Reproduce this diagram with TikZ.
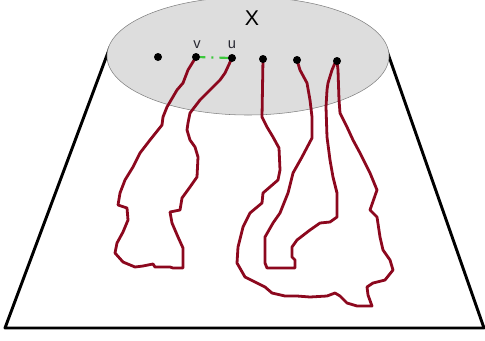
\documentclass[tikz,border=0pt]{standalone}
\usepackage{fontspec}
\setmainfont{Liberation Sans}
\usepackage{tikz}
\definecolor{loopred}{RGB}{140,8,30}
\definecolor{dotgreen}{RGB}{60,200,60}
\definecolor{diskgray}{RGB}{221,221,221}
\definecolor{labelgray}{RGB}{40,40,50}
\tikzset{
  loopline/.style={loopred,line width=2.1pt,line join=round},
  pt/.style={circle,fill=black,inner sep=0pt,minimum size=6pt},
  lbl/.style={labelgray,font=\fontsize{11}{12}\selectfont}
}

\begin{document}
\begin{tikzpicture}[x=0.75pt,y=-0.75pt]
    \useasboundingbox (0,0) rectangle (485,340);
    % Corners of the plane (top ones hidden under the disc)
    \coordinate (TL) at (110,47); % Top left
    \coordinate (TR) at (386,48); % Top right
    \coordinate (BR) at (484,328); % Bottom right
    \coordinate (BL) at (5,328); % Bottom left
    \draw[line width=2.2pt,line join=round] (TL) -- (TR) -- (BR) -- (BL) -- cycle;
    % The disc X
    \draw[gray,fill=diskgray] (248,56) ellipse [x radius=141, y radius=59];
    \node[font=\fontsize{16}{18}\selectfont] (X) at (252,18) {X};
    % Points on the disc
    \coordinate (p1) at (158,57);
    \coordinate (pv) at (196,57);
    \coordinate (pu) at (232,58);
    \coordinate (p4) at (263,59);
    \coordinate (p5) at (297,60);
    \coordinate (p6) at (337,61);
    \draw[dotgreen,line width=1.6pt,dash pattern=on 7pt off 4.5pt on 1.5pt off 4.5pt] (pv) -- (pu);
    % Loop from v to u
    \draw[loopline] (pv) -- (188,70) -- (183,83) -- (177,90) -- (167,107) -- (163,117)
      -- (162,125) -- (150,140) -- (140,153) -- (133,167) -- (125,180) -- (120,193)
      -- (118,205) -- (127,208) -- (128,220) -- (123,232) -- (117,243) -- (115,253)
      -- (123,262) -- (135,267) -- (143,266) -- (153,264) -- (155,267) -- (170,267)
      -- (173,268) -- (183,268) -- (183,248) -- (178,237) -- (172,223) -- (170,212)
      -- (180,210) -- (182,198) -- (190,187) -- (197,177) -- (198,157) -- (195,147)
      -- (190,140) -- (187,130) -- (188,123) -- (190,113) -- (200,100) -- (210,90)
      -- (220,80) -- (225,73) -- (pu);
    % Outer loop from the fourth to the sixth point
    \draw[loopline] (p4) -- (262,117) -- (267,127) -- (273,137) -- (279,148) -- (280,170)
      -- (278,180) -- (263,193) -- (262,203) -- (250,213) -- (243,227) -- (238,247)
      -- (237,263) -- (245,277) -- (255,282) -- (265,287) -- (272,293) -- (285,296)
      -- (297,296) -- (310,297) -- (327,296) -- (335,293) -- (340,296) -- (347,303)
      -- (357,306) -- (372,306) -- (368,295) -- (367,287) -- (373,283) -- (385,280)
      -- (393,270) -- (390,260) -- (383,250) -- (380,237) -- (377,217) -- (370,210)
      -- (377,190) -- (370,173) -- (360,153) -- (353,140) -- (347,127) -- (340,113)
      -- (339,100) -- (338,70) -- (p6);
    % Inner loop from the fifth to the sixth point
    \draw[loopline] (p5) -- (300,70) -- (307,83) -- (310,100) -- (312,117) -- (312,138)
      -- (302,157) -- (293,173) -- (288,193) -- (280,213) -- (273,223) -- (265,237)
      -- (265,263) -- (267,268) -- (295,268) -- (295,260) -- (292,257) -- (292,247)
      -- (297,240) -- (310,230) -- (320,223) -- (330,222) -- (337,217) -- (337,193)
      -- (333,177) -- (330,160) -- (327,137) -- (326,107) -- (327,90) -- (328,83)
      -- (332,70) -- (335,63) -- (p6);
    % Dots and labels
    \node[pt] (d1) at (p1) {};
    \node[pt] (v) at (pv) {};
    \node[pt] (u) at (pu) {};
    \node[pt] (d4) at (p4) {};
    \node[pt] (d5) at (p5) {};
    \node[pt] (d6) at (p6) {};
    \node[lbl] (vl) at (197,45) {v};
    \node[lbl] (ul) at (232,45) {u};
\end{tikzpicture}
\end{document}
